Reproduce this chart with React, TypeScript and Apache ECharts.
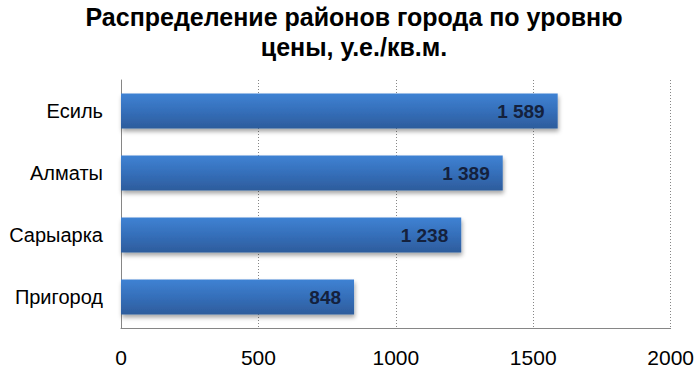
import React, { useEffect, useRef } from "react";
import * as echarts from "echarts";

const categories = ["Пригород", "Сарыарка", "Алматы", "Есиль"];
const values = [848, 1238, 1389, 1589];
const xTicks = [0, 500, 1000, 1500, 2000];
const titleLines = ["Распределение районов города по уровню", "цены, у.е./кв.м."];

const fmt = (v: number) => {
  const s = String(Math.round(v));
  return s.replace(/\B(?=(\d{3})+(?!\d))/g, " ");
};

const FONT = "Liberation Sans, Arial, sans-serif";

export default function App() {
  const ref = useRef<HTMLDivElement>(null);
  useEffect(() => {
    const chart = echarts.init(ref.current!, null, { renderer: "svg" });
    chart.setOption({
      animation: false,
      backgroundColor: "#ffffff",
      title: {
        text: titleLines.join("\n"),
        left: 349,
        textAlign: "center",
        top: -3,
        textStyle: {
          fontFamily: FONT,
          fontSize: 25,
          fontWeight: "bold",
          color: "#000000",
          lineHeight: 30,
        },
      },
      grid: { left: 121, right: 26, top: 80, bottom: 54, containLabel: false },
      xAxis: {
        type: "value",
        min: xTicks[0],
        max: xTicks[xTicks.length - 1],
        interval: 500,
        axisLine: { show: true, lineStyle: { color: "#868686", width: 1 } },
        axisTick: { show: false },
        axisLabel: {
          margin: 19,
          fontFamily: FONT,
          fontSize: 21,
          color: "#000000",
          formatter: (v: number) => String(v),
        },
        splitLine: {
          show: true,
          lineStyle: { color: "#868686", type: [1, 2], width: 1 },
        },
      },
      yAxis: {
        type: "category",
        data: categories,
        axisLine: { show: true, lineStyle: { color: "#868686", width: 1 } },
        axisTick: { show: false },
        axisLabel: {
          margin: 18,
          fontFamily: FONT,
          fontSize: 20,
          color: "#000000",
        },
      },
      series: [
        {
          type: "bar",
          data: values,
          barWidth: 35,
          itemStyle: {
            color: new echarts.graphic.LinearGradient(0, 0, 0, 1, [
              { offset: 0, color: "#3f82d3" },
              { offset: 0.5, color: "#356fba" },
              { offset: 1, color: "#2d5c9c" },
            ]),
            shadowColor: "rgba(0,0,0,0.35)",
            shadowBlur: 4,
            shadowOffsetX: 1,
            shadowOffsetY: 3,
          },
          label: {
            show: true,
            position: "insideRight",
            distance: 13,
            formatter: (p: any) => fmt(p.value),
            fontFamily: FONT,
            fontSize: 19,
            fontWeight: "bold",
            color: "#14213d",
          },
        },
      ],
    });
    return () => chart.dispose();
  }, []);
  return (
    <div
      ref={ref}
      style={{ position: "fixed", left: 0, top: 0, width: 697, height: 382 }}
    />
  );
}
